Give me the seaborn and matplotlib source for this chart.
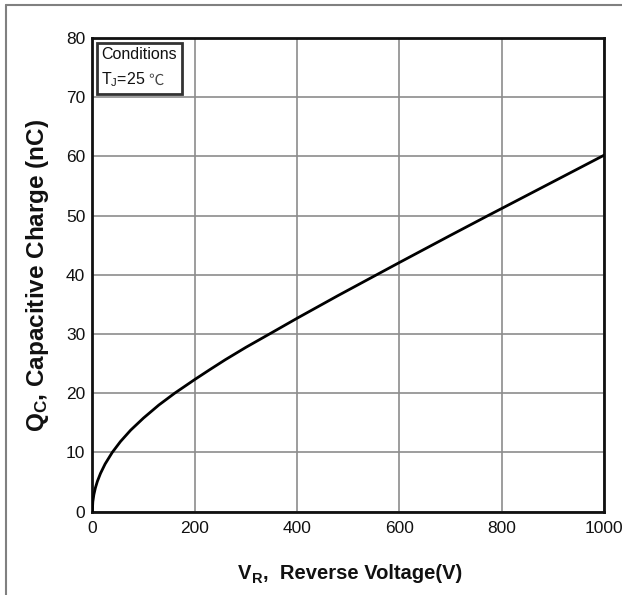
import matplotlib
matplotlib.use("Agg")
import matplotlib.pyplot as plt
import seaborn as sns
import pandas as pd
from matplotlib.lines import Line2D
from matplotlib.offsetbox import TextArea, HPacker, VPacker, AnchoredOffsetbox

# ---- data ----
voltage = [0, 1, 3, 6, 10, 16, 25, 39, 55, 75, 100, 130, 161, 200, 230, 260, 300, 347,
           400, 480, 562, 600, 700, 775, 800, 900, 1000]
charge = [0, 1.66, 2.85, 4.0, 5.13, 6.45, 8.04, 10.0, 11.83, 13.76, 15.8, 18.0,
          20.0, 22.3, 24.0, 25.66, 27.74, 30.04, 32.65, 36.48, 40.3, 42.07, 46.67, 50.08,
          51.2, 55.7, 60.2]
x_ticks = [0, 200, 400, 600, 800, 1000]
y_ticks = [0, 10, 20, 30, 40, 50, 60, 70, 80]

sns.set_theme(style="white")
FAM = ["Liberation Sans", "DejaVu Sans"]
plt.rcParams["font.family"] = FAM
plt.rcParams["mathtext.fontset"] = "custom"
plt.rcParams["mathtext.rm"] = "Liberation Sans"
plt.rcParams["mathtext.bf"] = "Liberation Sans:bold"

df = pd.DataFrame({"V": voltage, "Q": charge})

fig = plt.figure(figsize=(6.22, 5.95), dpi=100)
ax = fig.add_axes([0.1484, 0.1402, 0.8227, 0.7959])

ax.grid(True, color="#8c8c8c", linewidth=1.2)
ax.set_axisbelow(True)
sns.lineplot(data=df, x="V", y="Q", ax=ax, color="black", linewidth=2.0, zorder=3)

ax.set_xlim(0, 1000)
ax.set_ylim(0, 80)
ax.set_xticks(x_ticks)
ax.set_yticks(y_ticks)
ax.set_xticklabels([str(t) for t in x_ticks])
ax.set_yticklabels([str(t) for t in y_ticks])
ax.tick_params(axis="x", length=0, pad=7, labelsize=12.5, colors="#111111")
ax.tick_params(axis="y", length=0, pad=5, labelsize=12.5, colors="#111111")
ax.set_xlabel("")
ax.set_ylabel("")
for s in ax.spines.values():
    s.set_visible(True)
    s.set_color("#111111")
    s.set_linewidth(2.0)

# conditions box
t1 = TextArea("Conditions", textprops=dict(fontsize=11.5, family=FAM, color="#111111"))
t2 = TextArea(r"T$_\mathrm{J}$=25 ", textprops=dict(fontsize=11.5, family=FAM, color="#111111"))
t3 = TextArea("℃", textprops=dict(fontsize=11, family=["Noto Sans CJK SC", "DejaVu Sans"],
                                  fontweight="light", color="#444444"))
row = HPacker(children=[t2, t3], align="baseline", pad=0, sep=1)
box = VPacker(children=[t1, row], align="left", pad=0, sep=6)
anch = AnchoredOffsetbox(loc="upper left", child=box, pad=0.3, borderpad=0.3,
                         frameon=True, bbox_to_anchor=(0.0, 1.0),
                         bbox_transform=ax.transAxes)
anch.patch.set_edgecolor("#333333")
anch.patch.set_linewidth(2.0)
anch.patch.set_boxstyle("square", pad=0)
ax.add_artist(anch)

# y axis label
fig.text(0.0595, 0.5378, r"$\mathbf{Q_C}$, Capacitive Charge (nC)", rotation=90,
         ha="center", va="center", fontsize=17.5, fontweight="bold",
         family=FAM, color="#111111")

# x axis label built from bold pieces: V, subscript R, rest
lab_kw = dict(fontweight="bold", family=FAM, color="#111111")
tv = fig.text(238 / 622, 0.0276, "V", ha="left", va="baseline", fontsize=14.5, **lab_kw)
tr = fig.text(0, 0, "R", fontsize=10.5, ha="left", va="bottom", **lab_kw)
tr.set_position((1.0, 0.0))
tr.set_transform(matplotlib.transforms.offset_copy(
    matplotlib.transforms.BboxTransformTo(tv.get_window_extent(fig.canvas.get_renderer())),
    fig=fig, x=0.5, y=-2.5, units="points"))
trest = fig.text(0, 0, ",  Reverse Voltage(V)", fontsize=14.5, ha="left", va="bottom", **lab_kw)
trest.set_position((1.0, 0.0))
trest.set_transform(matplotlib.transforms.offset_copy(
    matplotlib.transforms.BboxTransformTo(tr.get_window_extent(fig.canvas.get_renderer())),
    fig=fig, x=0, y=2.5, units="points"))

# picture frame lines (left and top)
fig.add_artist(Line2D([5.5 / 622, 5.5 / 622], [0, 1 - 4.5 / 595],
                      transform=fig.transFigure, color="#808080", linewidth=1.5))
fig.add_artist(Line2D([5.5 / 622, 1.0], [1 - 4.5 / 595, 1 - 4.5 / 595],
                      transform=fig.transFigure, color="#808080", linewidth=1.5))

fig.savefig("out.png", dpi=100)
